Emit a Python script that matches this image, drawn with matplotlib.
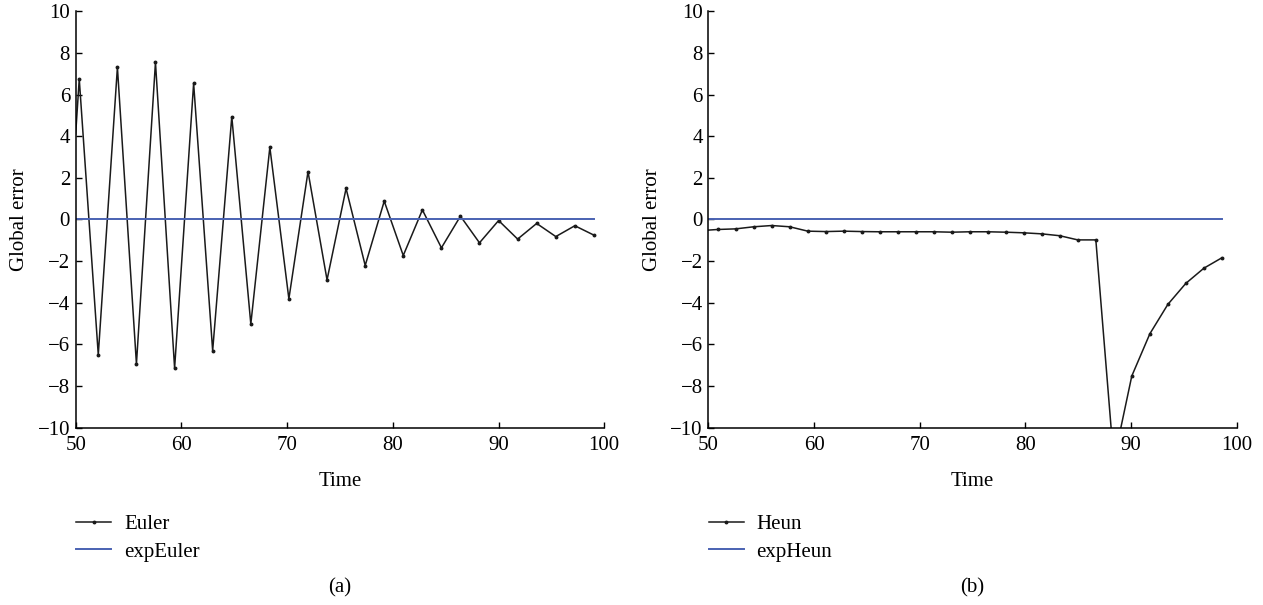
"""Global error of Euler / Heun vs exponential integrators."""

import matplotlib

matplotlib.use("Agg")
import matplotlib.pyplot as plt

plt.rcParams["font.family"] = ["Liberation Serif", "DejaVu Serif"]
plt.rcParams["mathtext.fontset"] = "stix"

# panel (a): Euler vs expEuler
euler_time = [50.0, 50.34, 52.14, 53.95, 55.75, 57.55, 59.36, 61.16, 62.96, 64.77, 66.57,
              68.37, 70.17, 71.98, 73.78, 75.58, 77.39, 79.19, 80.99, 82.80, 84.60,
              86.40, 88.20, 90.01, 91.81, 93.61, 95.42, 97.22, 99.02]
euler_err = [4.1, 6.75, -6.5, 7.31, -6.94, 7.55, -7.14, 6.54, -6.3, 4.94, -5.02,
             3.47, -3.81, 2.30, -2.9, 1.49, -2.21, 0.88, -1.73, 0.46, -1.36,
             0.16, -1.12, -0.05, -0.94, -0.19, -0.82, -0.30, -0.75]
exp_euler_err = [0.0, 0.0, 0.0, 0.0, 0.0, 0.0, 0.0, 0.0, 0.0, 0.0, 0.0,
                 0.0, 0.0, 0.0, 0.0, 0.0, 0.0, 0.0, 0.0, 0.0, 0.0,
                 0.0, 0.0, 0.0, 0.0, 0.0, 0.0, 0.0, 0.0]

# panel (b): Heun vs expHeun
heun_time = [50.0, 50.89, 52.59, 54.30, 56.00, 57.70, 59.41, 61.11, 62.81, 64.52, 66.22,
             67.92, 69.62, 71.33, 73.03, 74.73, 76.44, 78.14, 79.84, 81.55, 83.25,
             84.95, 86.66, 88.36, 90.06, 91.77, 93.47, 95.17, 96.88, 98.58]
heun_err = [-0.51, -0.48, -0.45, -0.35, -0.29, -0.35, -0.56, -0.58, -0.56, -0.58, -0.59,
            -0.59, -0.59, -0.59, -0.61, -0.59, -0.59, -0.61, -0.64, -0.69, -0.78,
            -0.98, -0.98, -11.6, -7.52, -5.49, -4.08, -3.07, -2.34, -1.84]
exp_heun_err = [0.0, 0.0, 0.0, 0.0, 0.0, 0.0, 0.0, 0.0, 0.0, 0.0, 0.0,
                0.0, 0.0, 0.0, 0.0, 0.0, 0.0, 0.0, 0.0, 0.0, 0.0,
                0.0, 0.0, 0.0, 0.0, 0.0, 0.0, 0.0, 0.0, 0.0]

x_ticks = [50, 60, 70, 80, 90, 100]
y_ticks = [-10, -8, -6, -4, -2, 0, 2, 4, 6, 8, 10]

BLUE = "#4a62b2"
FS = 15

panels = [
    (0.0599, euler_time, euler_err, exp_euler_err, "Euler", "expEuler", "(a)"),
    (0.5608, heun_time, heun_err, exp_heun_err, "Heun", "expHeun", "(b)"),
]

fig = plt.figure(figsize=(12.63, 6.05), dpi=100)

for left, t, err, exp_err, name, exp_name, tag in panels:
    ax = fig.add_axes([left, 0.2931, 0.4185, 0.6882])
    ax.plot(t, err, color="#1a1a1a", linewidth=1.1, marker="o", markersize=1.8,
            markevery=slice(1, None), label=name)
    ax.plot(t, exp_err, color=BLUE, linewidth=1.4, label=exp_name)
    ax.set_xlim(50, 100)
    ax.set_ylim(-10, 10)
    ax.set_xticks(x_ticks)
    ax.set_yticks(y_ticks)
    ax.set_yticklabels([str(v).replace("-", "\u2212") for v in y_ticks])
    ax.tick_params(direction="in", length=4, width=1, labelsize=FS)
    ax.tick_params(axis="x", pad=6)
    ax.tick_params(axis="y", pad=4)
    for side in ("top", "right"):
        ax.spines[side].set_visible(False)
    for side in ("left", "bottom"):
        ax.spines[side].set_linewidth(1.1)
    ax.set_xlabel("Time", fontsize=FS, labelpad=12)
    ax.set_ylabel("Global error", fontsize=FS, labelpad=6)
    ax.legend(loc="upper left", bbox_to_anchor=(left + 0.0003, 0.150),
              bbox_transform=fig.transFigure, frameon=False, fontsize=FS,
              handlelength=1.7, handletextpad=0.6, labelspacing=0.4,
              borderpad=0, borderaxespad=0)
    fig.text(left + 0.4185 / 2, 0.028, tag, ha="center", va="center", fontsize=FS)

fig.savefig("out.png", dpi=100)
plt.close(fig)
